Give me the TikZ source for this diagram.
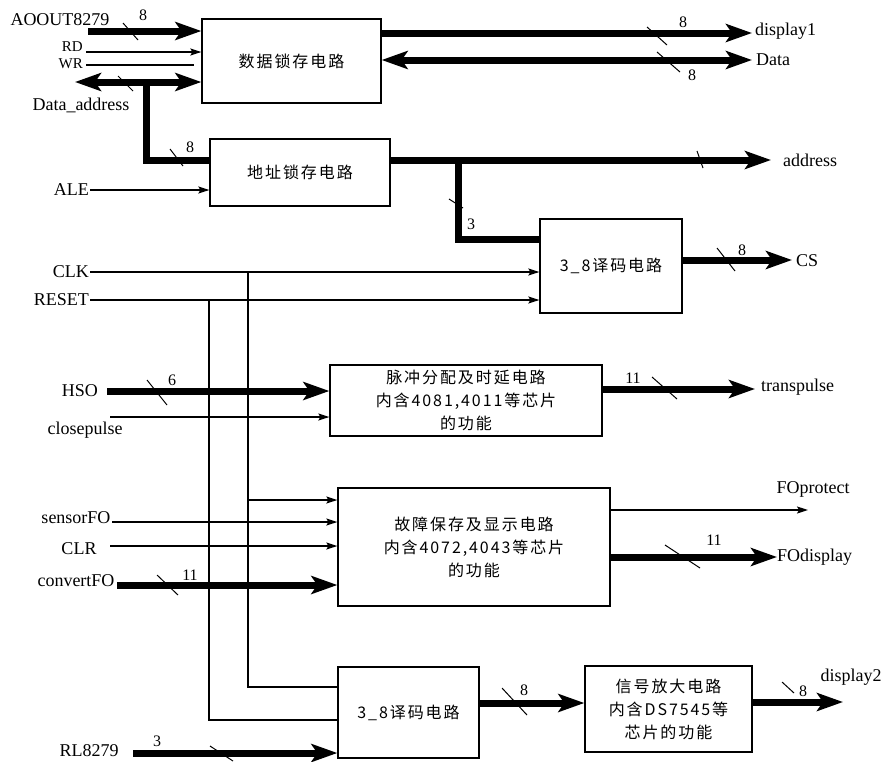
\documentclass[tikz,border=0pt]{standalone}
\usepackage{fontspec}
\setmainfont{Liberation Serif}
\newfontfamily\cjk[LetterSpace=12]{Noto Sans CJK SC}
\usetikzlibrary{arrows.meta}
\begin{document}
\begin{tikzpicture}[x=1pt,y=-1pt,
  blk/.style={draw, line width=1.3pt, inner sep=0pt, align=center,
    font=\cjk\fontsize{16}{23}\selectfont},
  lbl/.style={font=\fontsize{18}{20}\selectfont, inner sep=1pt},
  slbl/.style={font=\fontsize{15}{16}\selectfont, inner sep=0pt},
  num/.style={font=\fontsize{16}{18}\selectfont, inner sep=0pt},
  bus/.style={line width=7pt, -{Stealth[length=26pt,width=18pt,inset=6pt]}},
  busboth/.style={line width=7pt, {Stealth[length=26pt,width=18pt,inset=6pt]}-{Stealth[length=26pt,width=18pt,inset=6pt]}},
  busline/.style={line width=7pt},
  sig/.style={line width=1.3pt, -{Stealth[length=11pt,width=7pt,inset=2pt]}},
  wire/.style={line width=1.3pt},
  tick/.style={line width=1pt}]
\useasboundingbox (0,0) rectangle (882,761);

% blocks
\node[blk, minimum width=179pt, minimum height=84pt] (b1) at (291.5,61) {数据锁存电路};
\node[blk, minimum width=180pt, minimum height=67pt] (b2) at (300,172.5) {地址锁存电路};
\node[blk, minimum width=142pt, minimum height=94pt] (b3) at (611,266) {3\_8译码电路};
\node[blk, minimum width=272pt, minimum height=71pt] (b4) at (466,400.5) {脉冲分配及时延电路\\内含4081,4011等芯片\\的功能};
\node[blk, minimum width=272pt, minimum height=118pt] (b5) at (474,547) {故障保存及显示电路\\内含4072,4043等芯片\\的功能};
\node[blk, minimum width=141pt, minimum height=91pt] (b6) at (408.5,712.5) {3\_8译码电路};
\node[blk, minimum width=167pt, minimum height=86pt] (b7) at (668.5,709) {信号放大电路\\内含DS7545等\\芯片的功能};

% left labels
\node[lbl] (ao) at (60,20) {AOOUT8279};
\node[slbl, anchor=east] (rd) at (83,47) {RD};
\node[slbl, anchor=east] (wr) at (83,64) {WR};
\node[lbl] (da) at (81,105) {Data\_address};
\node[lbl, anchor=east] (ale) at (90,190) {ALE};
\node[lbl, anchor=east] (clk) at (90,272) {CLK};
\node[lbl, anchor=east] (rst) at (90,300) {RESET};
\node[lbl, anchor=east] (hso) at (99,391) {HSO};
\node[lbl] (cp) at (85,430) {closepulse};
\node[lbl] (sf) at (76,518) {sensorFO};
\node[lbl] (clr) at (79,549) {CLR};
\node[lbl] (cf) at (76,581) {convertFO};
\node[lbl] (rl) at (89,751) {RL8279};

% right labels
\node[lbl, anchor=west] (dsp1) at (754,31) {display1};
\node[lbl, anchor=west] (dat) at (755,60) {Data};
\node[lbl, anchor=west] (adr) at (782,160) {address};
\node[lbl, anchor=west] (cs) at (795,261) {CS};
\node[lbl, anchor=west] (tp) at (760,387) {transpulse};
\node[lbl] (fp) at (813,489) {FOprotect};
\node[lbl, anchor=west] (fd) at (776,557) {FOdisplay};
\node[lbl] (d2) at (851,677) {display2};

% coordinates
\coordinate (aoS) at (88,31);
\coordinate (rdS) at (86,52);
\coordinate (wrS) at (86,65);
\coordinate (daS) at (75,82);
\coordinate (daV) at (146,82);
\coordinate (d1E) at (752,33);
\coordinate (dtE) at (752,60);
\coordinate (adrE) at (771,160);
\coordinate (brA) at (458,160);
\coordinate (csE) at (792,260);
\coordinate (clkV) at (248,272);
\coordinate (rstV) at (209,300);
\coordinate (clkB) at (248,500);
\coordinate (hsoS) at (107,391);
\coordinate (cpS) at (110,417);
\coordinate (tpE) at (755,389);
\coordinate (sfS) at (112,522);
\coordinate (clrS) at (110,546);
\coordinate (cfS) at (117,585);
\coordinate (fpE) at (808,510);
\coordinate (fdE) at (777,557);
\coordinate (rlS) at (133,753);
\coordinate (d2E) at (843,702);

% top block connections
\draw[bus] (aoS) -- (aoS -| b1.west);
\draw[sig] (rdS) -- (rdS -| b1.west);
\draw[wire, shorten >=7pt] (wrS) -- (wrS -| b1.west);
\draw[busboth] (daS) -- (daS -| b1.west);
\draw[busline] (daV) |- (b2.west |- 0,160);
\draw[sig] (ale.east) -- (ale.east -| b2.west);
\draw[bus] (b1.east |- d1E) -- (d1E);
\draw[busboth] (b1.east |- dtE) -- (dtE);
\draw[bus] (b2.east |- adrE) -- (adrE);
\draw[busline] (brA) |- (b3.west |- 0,239);
\draw[bus] (b3.east |- csE) -- (csE);

% clock / reset
\draw[sig] (clk.east) -- (clk.east -| b3.west);
\draw[sig] (rst.east) -- (rst.east -| b3.west);
\draw[wire] (clkV) |- (b6.west |- 0,687);
\draw[wire] (rstV) |- (b6.west |- 0,720);
\draw[sig] (clkB) -- (clkB -| b5.west);

% pulse block
\draw[bus] (hsoS) -- (hsoS -| b4.west);
\draw[sig] (cpS) -- (cpS -| b4.west);
\draw[bus] (b4.east |- tpE) -- (tpE);

% fault block
\draw[sig] (sfS) -- (sfS -| b5.west);
\draw[sig] (clrS) -- (clrS -| b5.west);
\draw[bus] (cfS) -- (cfS -| b5.west);
\draw[sig] (b5.east |- fpE) -- (fpE);
\draw[bus] (b5.east |- fdE) -- (fdE);

% bottom
\draw[bus] (rlS) -- (rlS -| b6.west);
\draw[bus] (b6.east |- 0,703) -- (b7.west |- 0,703);
\draw[bus] (b7.east |- d2E) -- (d2E);

% bus ticks
\draw[tick] (123,23) -- (138,40);
\draw[tick] (118,76) -- (133,91);
\draw[tick] (170,149) -- (183,166);
\draw[tick] (647,27) -- (667,45);
\draw[tick] (657,52) -- (680,72);
\draw[tick] (697,151) -- (703,168);
\draw[tick] (449,199) -- (463,208);
\draw[tick] (717,248) -- (735,271);
\draw[tick] (652,377) -- (677,399);
\draw[tick] (147,380) -- (167,405);
\draw[tick] (157,575) -- (178,595);
\draw[tick] (665,545) -- (700,568);
\draw[tick] (502,688) -- (527,715);
\draw[tick] (782,682) -- (794,693);
\draw[tick] (210,746) -- (233,761);

% bus widths
\node[num] (n1) at (143,15) {8};
\node[num] (n2) at (190,147) {8};
\node[num] (n3) at (683,22) {8};
\node[num] (n4) at (692,75) {8};
\node[num] (n5) at (471,224) {3};
\node[num] (n6) at (742,250) {8};
\node[num] (n7) at (172,380) {6};
\node[num] (n8) at (633,378) {11};
\node[num] (n9) at (190,575) {11};
\node[num] (n10) at (714,540) {11};
\node[num] (n11) at (524,690) {8};
\node[num] (n12) at (803,691) {8};
\node[num] (n13) at (157,741) {3};
\end{tikzpicture}
\end{document}
